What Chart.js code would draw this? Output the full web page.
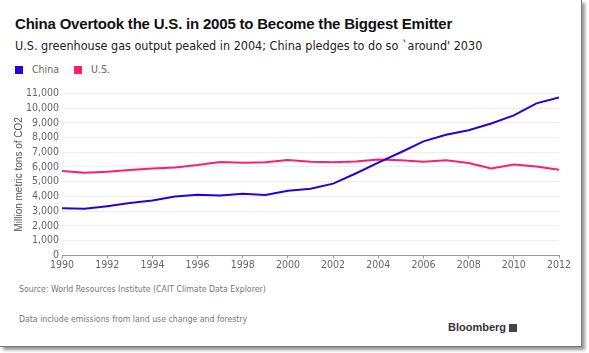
<!DOCTYPE html>
<html>
<head>
<meta charset="utf-8">
<script src="https://cdn.jsdelivr.net/npm/chart.js@4/dist/chart.umd.min.js"></script>
<style>
  body { margin: 0; background: #fff; width: 589px; height: 353px; overflow: hidden; font-family: "Liberation Sans", Arial, sans-serif; }
  #frame { position: absolute; left: 0; top: 0; width: 581px; height: 346px; background: #fff; border-right: 1px solid #777; border-bottom: 1px solid #777; box-shadow: 3px 3px 3px #999; }
  #title { position: absolute; left: 15px; top: 15px; font-size: 15px; letter-spacing: -0.2px; font-weight: bold; color: #111; white-space: nowrap; }
  #sub { position: absolute; left: 15px; top: 38px; font-family: "DejaVu Sans Condensed", "DejaVu Sans", sans-serif; font-stretch: condensed; font-size: 12.5px; color: #222; white-space: nowrap; }
  #legend { position: absolute; left: 15px; top: 63px; font-family: "DejaVu Sans Condensed", sans-serif; font-stretch: condensed; font-size: 10.5px; color: #666; }
  #legend span.sw { display: inline-block; width: 8px; height: 8px; vertical-align: -1px; margin-right: 9px; }
  #legend span.lb { margin-right: 15px; }
  #src, #note { position: absolute; left: 19px; font-family: "DejaVu Sans Condensed", sans-serif; font-stretch: condensed; font-size: 8.7px; color: #777; white-space: nowrap; }
  #src { top: 284px; }
  #note { top: 314px; }
  #brand { position: absolute; left: 448px; top: 321px; font-size: 11px; font-weight: bold; color: #333; }
  #brand span { display: inline-block; width: 8px; height: 8px; background: #444; margin-left: 3px; vertical-align: -1px; }
  #wrap { position: absolute; left: 0; top: 84px; width: 576px; height: 189px; }
</style>
</head>
<body>
<div id="frame"></div>
<div id="title">China Overtook the U.S. in 2005 to Become the Biggest Emitter</div>
<div id="sub">U.S. greenhouse gas output peaked in 2004; China pledges to do so `around' 2030</div>
<div id="legend"><span class="sw" style="background:#2a00d8"></span><span class="lb">China</span><span class="sw" style="background:#ff1f66"></span><span class="lb">U.S.</span></div>
<div id="wrap"><canvas id="chart"></canvas></div>
<div id="src">Source: World Resources Institute (CAIT Climate Data Explorer)</div>
<div id="note">Data include emissions from land use change and forestry</div>
<div id="brand">Bloomberg<span></span></div>
<script>
// emissions, million metric tons of CO2
const years = [1990, 1991, 1992, 1993, 1994, 1995, 1996, 1997, 1998, 1999, 2000, 2001,
  2002, 2003, 2004, 2005, 2006, 2007, 2008, 2009, 2010, 2011, 2012];
const china = [3200, 3160, 3340, 3550, 3730, 4000, 4120, 4070, 4190, 4100, 4390, 4530,
  4870, 5560, 6290, 7000, 7740, 8190, 8490, 8950, 9500, 10320, 10710];
const us = [5720, 5610, 5680, 5790, 5900, 5970, 6130, 6340, 6290, 6320, 6480, 6360,
  6320, 6380, 6500, 6450, 6360, 6450, 6270, 5900, 6160, 6040, 5810];

const pts = arr => arr.map((v, i) => ({ x: years[i], y: v }));

new Chart(document.getElementById('chart'), {
  type: 'line',
  data: {
    datasets: [
      { label: 'China', data: pts(china), borderColor: '#2a00d8', borderWidth: 2, pointRadius: 0, tension: 0 },
      { label: 'U.S.', data: pts(us), borderColor: '#ff1f66', borderWidth: 2, pointRadius: 0, tension: 0 }
    ]
  },
  options: {
    responsive: true,
    maintainAspectRatio: false,
    animation: false,
    layout: { padding: { left: 13, right: 17, top: 4, bottom: 0 } },
    plugins: { legend: { display: false }, tooltip: { enabled: false } },
    scales: {
      x: {
        type: 'linear', min: 1990, max: 2012,
        grid: { drawOnChartArea: false, tickLength: 3, color: '#999' },
        border: { color: '#999' },
        ticks: {
          stepSize: 2, color: '#666', maxRotation: 0, padding: 1,
          font: { family: 'DejaVu Sans Condensed', size: 10.5 },
          callback: v => String(v)
        }
      },
      y: {
        min: 0, max: 11000,
        grid: { color: '#eeeeee', drawTicks: false },
        border: { display: false },
        title: { display: true, text: 'Million metric tons of CO2', color: '#555',
          font: { family: 'Liberation Sans', size: 10 }, padding: { top: 0, bottom: -2 } },
        ticks: {
          stepSize: 1000, autoSkip: false, color: '#666', padding: 3,
          font: { family: 'DejaVu Sans Condensed', size: 10.5 },
          callback: v => v.toLocaleString('en-US')
        }
      }
    }
  }
});
</script>
</body>
</html>
